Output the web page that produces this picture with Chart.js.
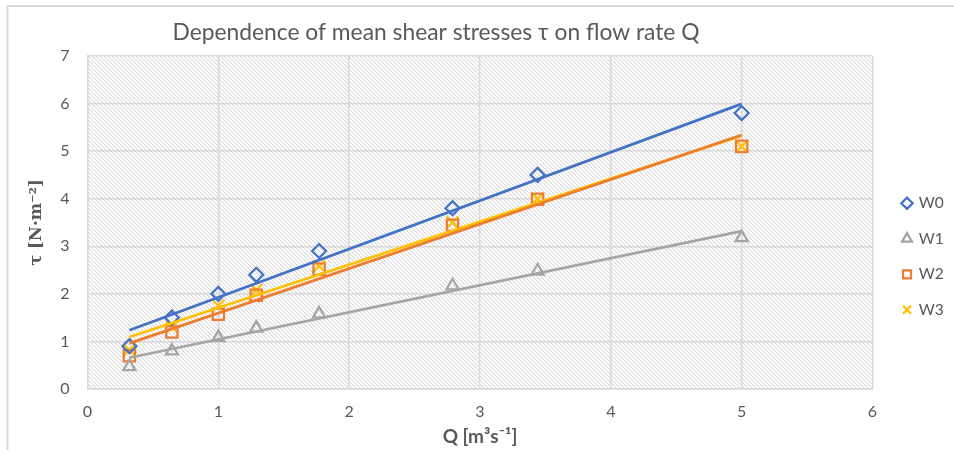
<!DOCTYPE html>
<html>
<head>
<meta charset="utf-8">
<script src="https://cdn.jsdelivr.net/npm/chart.js@4.4.0/dist/chart.umd.min.js"></script>
<style>
html, body { margin: 0; padding: 0; background: #ffffff; }
#wrap { width: 954px; height: 450px; position: relative; }
</style>
</head>
<body>
<div id="wrap"><canvas id="c" width="954" height="450"></canvas></div>
<script>
// ---- data ----
const flowRates = [0.32, 0.645, 1.0, 1.29, 1.77, 2.79, 3.44, 5.0];   // Q [m3/s]
const seriesNames = ['W0', 'W1', 'W2', 'W3'];
const w0 = [0.9, 1.5, 2.0, 2.4, 2.9, 3.8, 4.5, 5.8];
const w1 = [0.47, 0.8, 1.08, 1.28, 1.58, 2.17, 2.48, 3.18];
const w2 = [0.7, 1.2, 1.57, 1.97, 2.52, 3.44, 3.99, 5.1];
const w3 = [0.82, 1.3, 1.75, 2.08, 2.58, 3.5, 4.0, 5.1];
const xTicks = [0, 1, 2, 3, 4, 5, 6];
const yTicks = [0, 1, 2, 3, 4, 5, 6, 7];
const titleText = 'Dependence of mean shear stresses \u03c4 on flow rate Q';
const xTitle = 'Q [m\u00b3s\u207b\u00b9]';
const yTitle = '\u03c4 [N\u00b7m\u207b\u00b2]';

// ---- styles ----
const colors = ['#4472C4', '#A5A5A5', '#ED7D31', '#FFC000'];
const styles = ['rectRot', 'triangle', 'rect', 'crossRot'];
const radii = [7, 7, 8, 8.5];
const seriesValues = [w0, w1, w2, w3];
const textGray = '#595959';
const gridGray = '#d9d9d9';

// least squares linear trendline (as in the spreadsheet chart)
function linFit(xs, ys) {
  const n = xs.length;
  const mx = xs.reduce((a, b) => a + b, 0) / n;
  const my = ys.reduce((a, b) => a + b, 0) / n;
  let sxy = 0, sxx = 0;
  for (let i = 0; i < n; i++) { sxy += (xs[i] - mx) * (ys[i] - my); sxx += (xs[i] - mx) * (xs[i] - mx); }
  const k = sxy / sxx;
  return { k: k, b: my - k * mx };
}

const datasets = [];
seriesNames.forEach((name, s) => {
  datasets.push({
    label: name,
    data: flowRates.map((x, i) => ({ x: x, y: seriesValues[s][i] })),
    showLine: false,
    pointStyle: styles[s],
    pointRadius: radii[s],
    pointHoverRadius: radii[s],
    borderColor: colors[s],
    backgroundColor: 'rgba(0,0,0,0)',
    pointBackgroundColor: 'rgba(0,0,0,0)',
    pointBorderColor: colors[s],
    borderWidth: 2.25,
    pointBorderWidth: 2.25,
    order: 1
  });
});
seriesNames.forEach((name, s) => {
  const f = linFit(flowRates, seriesValues[s]);
  const x0 = flowRates[0], x1 = flowRates[flowRates.length - 1];
  datasets.push({
    label: name + ' trend',
    isTrend: true,
    data: [{ x: x0, y: f.k * x0 + f.b }, { x: x1, y: f.k * x1 + f.b }],
    showLine: true,
    pointRadius: 0,
    pointHoverRadius: 0,
    borderColor: colors[s],
    backgroundColor: colors[s],
    borderWidth: 2.75,
    order: 0
  });
});

// hatched plot-area pattern
const hatchTile = (() => {
  const c = document.createElement('canvas');
  c.width = 4; c.height = 4;
  const g = c.getContext('2d');
  const img = g.createImageData(4, 4);
  for (let y = 0; y < 4; y++) {
    for (let x = 0; x < 4; x++) {
      const i = (y * 4 + x) * 4;
      const d = ((x - y) % 4 + 4) % 4;
      const v = d === 0 ? 214 : (d === 1 ? 244 : 255);
      img.data[i] = v; img.data[i + 1] = v; img.data[i + 2] = v; img.data[i + 3] = 255;
    }
  }
  g.putImageData(img, 0, 0);
  return c;
})();

const layoutPlugin = {
  id: 'layoutTweaks',
  afterInit(chart) {
    const lg = chart.legend;
    if (lg) {
      const origFit = lg.fit.bind(lg);
      lg.fit = function () { origFit(); this.width = 81.5; };
    }
  },
  afterLayout(chart) {
    const lg = chart.legend;
    if (lg) {
      lg.left = 883; lg.right = 954;
      lg.top = 175.5; lg.bottom = 450;
    }
    const tb = chart.titleBlock;
    if (tb) { tb.left = 0; tb.right = 872; }
  },
  beforeDraw(chart) {
    const { ctx, chartArea: a } = chart;
    ctx.save();
    ctx.fillStyle = ctx.createPattern(hatchTile, 'repeat');
    ctx.fillRect(a.left, a.top, a.right - a.left, a.bottom - a.top);
    ctx.strokeStyle = gridGray;
    ctx.lineWidth = 2;
    ctx.beginPath();
    ctx.moveTo(7.5, 450);
    ctx.lineTo(7.5, 6);
    ctx.lineTo(954, 6);
    ctx.stroke();
    ctx.restore();
  }
};

new Chart(document.getElementById('c'), {
  type: 'scatter',
  data: { datasets: datasets },
  options: {
    responsive: false,
    animation: false,
    devicePixelRatio: 1,
    layout: { padding: 0 },
    plugins: {
      tooltip: { enabled: false },
      title: {
        display: true,
        text: titleText,
        color: textGray,
        font: { family: 'Lato', size: 22.8, weight: 'normal' },
        padding: { top: 19.3, bottom: 9.3 }
      },
      legend: {
        display: true,
        position: 'right',
        align: 'start',
        labels: {
          filter: (item, data) => !data.datasets[item.datasetIndex].isTrend,
          usePointStyle: true,
          boxWidth: 8,
          boxHeight: 8,
          padding: 20,
          color: textGray,
          font: { family: 'Lato', size: 15.5 }
        }
      }
    },
    scales: {
      x: {
        type: 'linear',
        min: 0, max: 6,
        afterBuildTicks: (scale) => { scale.ticks = xTicks.map(v => ({ value: v })); },
        afterFit: (scale) => { scale.height = 61; },
        grid: { color: gridGray, lineWidth: 1.5, drawTicks: false },
        border: { display: true, color: gridGray, width: 1.5 },
        ticks: { color: textGray, padding: 13, font: { family: 'Lato', size: 16 } },
        title: {
          display: true,
          text: xTitle,
          color: textGray,
          font: { family: 'Lato', size: 19, weight: 'bold' },
          padding: { top: 0, bottom: 2 }
        }
      },
      y: {
        type: 'linear',
        min: 0, max: 7,
        afterBuildTicks: (scale) => { scale.ticks = yTicks.map(v => ({ value: v })); },
        afterFit: (scale) => { scale.width = 87.5; },
        grid: { color: gridGray, lineWidth: 1.5, drawTicks: false },
        border: { display: true, color: gridGray, width: 1.5 },
        ticks: { color: textGray, padding: 18, font: { family: 'Lato', size: 16 } },
        title: {
          display: true,
          text: yTitle,
          color: textGray,
          font: { family: 'DejaVu Serif', size: 16.5, weight: 'bold' },
          padding: { top: 27, bottom: 0 }
        }
      }
    }
  },
  plugins: [layoutPlugin]
});
</script>
</body>
</html>
